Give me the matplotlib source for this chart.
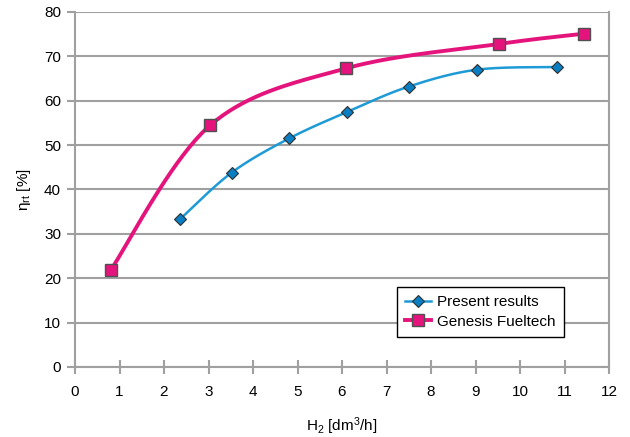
import numpy as np
import matplotlib
matplotlib.use("Agg")
import matplotlib.pyplot as plt
from matplotlib.lines import Line2D

plt.rcParams['font.family'] = ['Liberation Sans', 'DejaVu Sans']
plt.rcParams['mathtext.fontset'] = 'custom'
plt.rcParams['mathtext.rm'] = 'Liberation Sans'
plt.rcParams['mathtext.it'] = 'Liberation Sans'

present_x = [2.37, 3.52, 4.81, 6.12, 7.50, 9.03, 10.83]
present_y = [33.4, 43.8, 51.5, 57.5, 63.2, 67.0, 67.6]
genesis_x = [0.80, 3.04, 6.09, 9.53, 11.43]
genesis_y = [21.8, 54.5, 67.3, 72.8, 75.1]

x_ticks = list(range(0, 13))
y_ticks = list(range(0, 81, 10))


def smooth(xs, ys, n=40):
    """Excel-style smoothed line (Catmull-Rom via cubic Bezier)."""
    P = np.column_stack([xs, ys]).astype(float)
    out = []
    m = len(P)
    for i in range(m - 1):
        p0 = P[i - 1] if i > 0 else P[i]
        p1 = P[i]
        p2 = P[i + 1]
        p3 = P[i + 2] if i + 2 < m else P[i + 1]
        c1 = p1 + (p2 - p0) / 6.0
        c2 = p2 - (p3 - p1) / 6.0
        t = np.linspace(0, 1, n)[:, None]
        seg = ((1 - t) ** 3) * p1 + 3 * ((1 - t) ** 2) * t * c1 + 3 * (1 - t) * t ** 2 * c2 + t ** 3 * p2
        out.append(seg if i == 0 else seg[1:])
    S = np.vstack(out)
    return S[:, 0], S[:, 1]


fig = plt.figure(figsize=(6.30, 4.37), dpi=100)
ax = fig.add_axes([75 / 630, 1 - 367 / 437, (609 - 75) / 630, (367 - 12) / 437])

grid_c = '#a0a0a0'
fs = 11
ax.set_xlim(0, 12)
ax.set_ylim(0, 80)
ax.set_xticks(x_ticks)
ax.set_yticks(y_ticks)
ax.yaxis.grid(True, color=grid_c, linewidth=1.5)
ax.set_axisbelow(True)
for s in ['left', 'bottom', 'right']:
    ax.spines[s].set_color(grid_c)
    ax.spines[s].set_linewidth(1.5)
ax.spines['top'].set_visible(False)
ax.tick_params(axis='both', colors=grid_c, width=1.5, length=6, labelsize=fs,
               labelcolor='black')
ax.tick_params(axis='x', direction='inout', length=10, pad=8)
ax.tick_params(axis='y', pad=4)

blue_line = '#1e9ad6'
blue_mk = '#0a7ec2'
mag = '#e4147c'

gx, gy = smooth(genesis_x, genesis_y)
ax.plot(gx, gy, color=mag, linewidth=2.8, solid_capstyle='round', zorder=3)
ax.plot(genesis_x, genesis_y, linestyle='none', marker='s', markersize=9,
        markerfacecolor=mag, markeredgecolor='#505050', markeredgewidth=1.0, zorder=4)

px, py = smooth(present_x, present_y)
ax.plot(px, py, color=blue_line, linewidth=1.8, zorder=3)
ax.plot(present_x, present_y, linestyle='none', marker='D', markersize=6.5,
        markerfacecolor=blue_mk, markeredgecolor='#303030', markeredgewidth=0.8, zorder=4)

h1 = Line2D([], [], color=blue_line, linewidth=1.8, marker='D', markersize=6.5,
            markerfacecolor=blue_mk, markeredgecolor='#303030', markeredgewidth=0.8)
h2 = Line2D([], [], color=mag, linewidth=2.8, marker='s', markersize=9,
            markerfacecolor=mag, markeredgecolor='#505050', markeredgewidth=1.0)
leg = ax.legend([h1, h2], ['Present results', 'Genesis Fueltech'],
                loc='upper left', bbox_to_anchor=((397 - 75) / 534, 1 - (287 - 12) / 355),
                fontsize=fs, frameon=True, fancybox=False, framealpha=1,
                edgecolor='black', handlelength=1.7, handletextpad=0.4,
                borderpad=0.55, labelspacing=0.35, borderaxespad=0)
leg.get_frame().set_linewidth(1.0)

ax.set_xlabel('H$_2$ [dm$^3$/h]', fontsize=fs, labelpad=12)
ax.set_ylabel('η$_{\\mathrm{rt}}$ [%]', fontsize=fs, labelpad=8)

fig.savefig('out.png', dpi=100)
